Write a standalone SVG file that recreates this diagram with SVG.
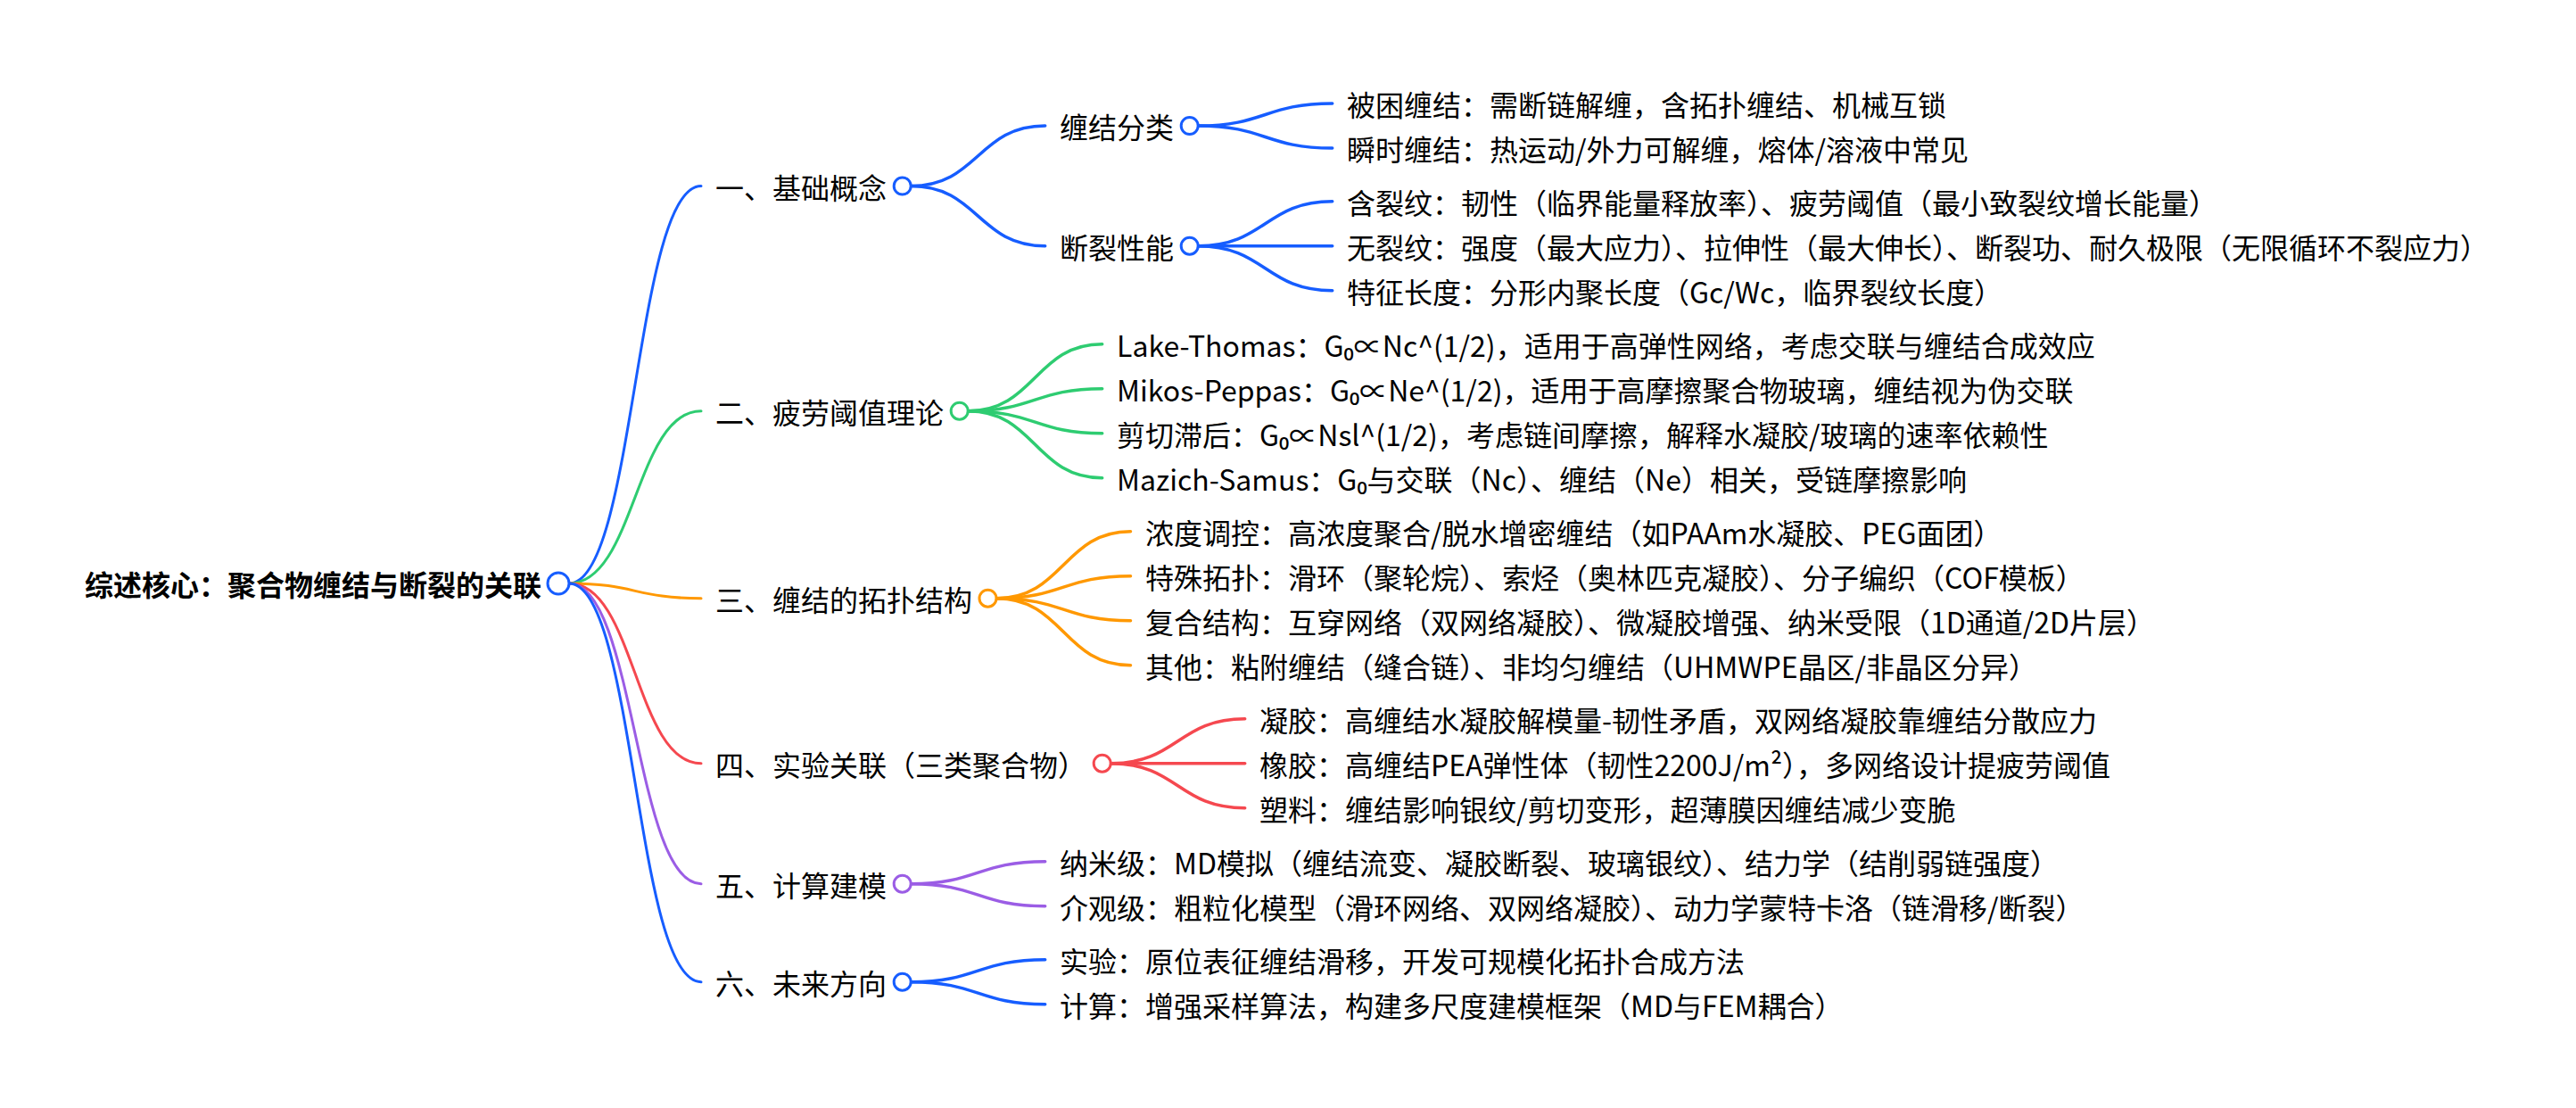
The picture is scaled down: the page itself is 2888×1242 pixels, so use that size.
<svg xmlns="http://www.w3.org/2000/svg" width="2888" height="1242" viewBox="0 0 2888 1242">
<style>
text{font-family:"Noto Sans CJK SC","Noto Sans",sans-serif;font-size:32px;fill:#000;dominant-baseline:central}
.root{font-weight:bold}
.c{fill:none;stroke-linecap:round}
.r0{stroke-width:3}
.r1{stroke-width:3.5}
.dot{fill:#fff;stroke-width:3}
.blue{stroke:#165dff}.green{stroke:#2ecc71}.orange{stroke:#ff9800}.red{stroke:#f5484f}.purple{stroke:#9b5de5}
</style>
<rect width="2888" height="1242" fill="#fff"/>
<g id="connectors">
<path class="c r0 blue" d="M638 654 C712 654 712 208.5 786 208.5"/>
<path class="c r0 green" d="M638 654 C712 654 712 460.7 786 460.7"/>
<path class="c r0 orange" d="M638 654 C712 654 712 670.7 786 670.7"/>
<path class="c r0 red" d="M638 654 C712 654 712 855.7 786 855.7"/>
<path class="c r0 purple" d="M638 654 C712 654 712 990.7 786 990.7"/>
<path class="c r0 blue" d="M638 654 C712 654 712 1100.7 786 1100.7"/>
<path class="c r1 blue" d="M1021.2 208.5 C1096.5 208.5 1096.5 141 1171.7 141"/>
<path class="c r1 blue" d="M1021.2 208.5 C1096.5 208.5 1096.5 275.7 1171.7 275.7"/>
<path class="c r1 blue" d="M1343.2 141 C1418.5 141 1418.5 116 1493.7 116"/>
<path class="c r1 blue" d="M1343.2 141 C1418.5 141 1418.5 166 1493.7 166"/>
<path class="c r1 blue" d="M1343.2 275.7 C1418.5 275.7 1418.5 225.7 1493.7 225.7"/>
<path class="c r1 blue" d="M1343.2 275.7 L1493.7 275.7"/>
<path class="c r1 blue" d="M1343.2 275.7 C1418.5 275.7 1418.5 325.7 1493.7 325.7"/>
<path class="c r1 green" d="M1085.2 460.7 C1160.5 460.7 1160.5 385.7 1235.7 385.7"/>
<path class="c r1 green" d="M1085.2 460.7 C1160.5 460.7 1160.5 435.7 1235.7 435.7"/>
<path class="c r1 green" d="M1085.2 460.7 C1160.5 460.7 1160.5 485.7 1235.7 485.7"/>
<path class="c r1 green" d="M1085.2 460.7 C1160.5 460.7 1160.5 535.7 1235.7 535.7"/>
<path class="c r1 orange" d="M1117 670.7 C1192.3 670.7 1192.3 595.7 1267.5 595.7"/>
<path class="c r1 orange" d="M1117 670.7 C1192.3 670.7 1192.3 645.7 1267.5 645.7"/>
<path class="c r1 orange" d="M1117 670.7 C1192.3 670.7 1192.3 695.7 1267.5 695.7"/>
<path class="c r1 orange" d="M1117 670.7 C1192.3 670.7 1192.3 745.7 1267.5 745.7"/>
<path class="c r1 red" d="M1245.2 855.7 C1320.5 855.7 1320.5 805.7 1395.7 805.7"/>
<path class="c r1 red" d="M1245.2 855.7 L1395.7 855.7"/>
<path class="c r1 red" d="M1245.2 855.7 C1320.5 855.7 1320.5 905.7 1395.7 905.7"/>
<path class="c r1 purple" d="M1021.2 990.7 C1096.5 990.7 1096.5 965.7 1171.7 965.7"/>
<path class="c r1 purple" d="M1021.2 990.7 C1096.5 990.7 1096.5 1015.7 1171.7 1015.7"/>
<path class="c r1 blue" d="M1021.2 1100.7 C1096.5 1100.7 1096.5 1075.7 1171.7 1075.7"/>
<path class="c r1 blue" d="M1021.2 1100.7 C1096.5 1100.7 1096.5 1125.7 1171.7 1125.7"/>
</g>
<g id="root">
<text class="root" x="95" y="654">综述核心：聚合物缠结与断裂的关联</text>
<circle class="dot blue" cx="626" cy="654" r="12"/>
</g>
<g id="n1">
<text x="802" y="208.5">一、基础概念</text>
<circle class="dot blue" cx="1011.7" cy="208.5" r="9.5"/>
</g>
<g id="n1-1">
<text x="1188" y="141">缠结分类</text>
<circle class="dot blue" cx="1333.7" cy="141" r="9.5"/>
</g>
<g id="n1-1-1"><text x="1510" y="116">被困缠结：需断链解缠，含拓扑缠结、机械互锁</text></g>
<g id="n1-1-2"><text x="1510" y="166">瞬时缠结：热运动/外力可解缠，熔体/溶液中常见</text></g>
<g id="n1-2">
<text x="1188" y="275.7">断裂性能</text>
<circle class="dot blue" cx="1333.7" cy="275.7" r="9.5"/>
</g>
<g id="n1-2-1"><text x="1510" y="225.7">含裂纹：韧性（临界能量释放率）、疲劳阈值（最小致裂纹增长能量）</text></g>
<g id="n1-2-2"><text x="1510" y="275.7">无裂纹：强度（最大应力）、拉伸性（最大伸长）、断裂功、耐久极限（无限循环不裂应力）</text></g>
<g id="n1-2-3"><text x="1510" y="325.7">特征长度：分形内聚长度（Gc/Wc，临界裂纹长度）</text></g>
<g id="n2">
<text x="802" y="460.7">二、疲劳阈值理论</text>
<circle class="dot green" cx="1075.7" cy="460.7" r="9.5"/>
</g>
<g id="n2-1"><text x="1252" y="385.7">Lake-Thomas：G₀∝Nc^(1/2)，适用于高弹性网络，考虑交联与缠结合成效应</text></g>
<g id="n2-2"><text x="1252" y="435.7">Mikos-Peppas：G₀∝Ne^(1/2)，适用于高摩擦聚合物玻璃，缠结视为伪交联</text></g>
<g id="n2-3"><text x="1252" y="485.7">剪切滞后：G₀∝Nsl^(1/2)，考虑链间摩擦，解释水凝胶/玻璃的速率依赖性</text></g>
<g id="n2-4"><text x="1252" y="535.7">Mazich-Samus：G₀与交联（Nc）、缠结（Ne）相关，受链摩擦影响</text></g>
<g id="n3">
<text x="802" y="670.7">三、缠结的拓扑结构</text>
<circle class="dot orange" cx="1107.5" cy="670.7" r="9.5"/>
</g>
<g id="n3-1"><text x="1284" y="595.7">浓度调控：高浓度聚合/脱水增密缠结（如PAAm水凝胶、PEG面团）</text></g>
<g id="n3-2"><text x="1284" y="645.7">特殊拓扑：滑环（聚轮烷）、索烃（奥林匹克凝胶）、分子编织（COF模板）</text></g>
<g id="n3-3"><text x="1284" y="695.7">复合结构：互穿网络（双网络凝胶）、微凝胶增强、纳米受限（1D通道/2D片层）</text></g>
<g id="n3-4"><text x="1284" y="745.7">其他：粘附缠结（缝合链）、非均匀缠结（UHMWPE晶区/非晶区分异）</text></g>
<g id="n4">
<text x="802" y="855.7">四、实验关联（三类聚合物）</text>
<circle class="dot red" cx="1235.7" cy="855.7" r="9.5"/>
</g>
<g id="n4-1"><text x="1412" y="805.7">凝胶：高缠结水凝胶解模量-韧性矛盾，双网络凝胶靠缠结分散应力</text></g>
<g id="n4-2"><text x="1412" y="855.7">橡胶：高缠结PEA弹性体（韧性2200J/m²），多网络设计提疲劳阈值</text></g>
<g id="n4-3"><text x="1412" y="905.7">塑料：缠结影响银纹/剪切变形，超薄膜因缠结减少变脆</text></g>
<g id="n5">
<text x="802" y="990.7">五、计算建模</text>
<circle class="dot purple" cx="1011.7" cy="990.7" r="9.5"/>
</g>
<g id="n5-1"><text x="1188" y="965.7">纳米级：MD模拟（缠结流变、凝胶断裂、玻璃银纹）、结力学（结削弱链强度）</text></g>
<g id="n5-2"><text x="1188" y="1015.7">介观级：粗粒化模型（滑环网络、双网络凝胶）、动力学蒙特卡洛（链滑移/断裂）</text></g>
<g id="n6">
<text x="802" y="1100.7">六、未来方向</text>
<circle class="dot blue" cx="1011.7" cy="1100.7" r="9.5"/>
</g>
<g id="n6-1"><text x="1188" y="1075.7">实验：原位表征缠结滑移，开发可规模化拓扑合成方法</text></g>
<g id="n6-2"><text x="1188" y="1125.7">计算：增强采样算法，构建多尺度建模框架（MD与FEM耦合）</text></g>
</svg>
